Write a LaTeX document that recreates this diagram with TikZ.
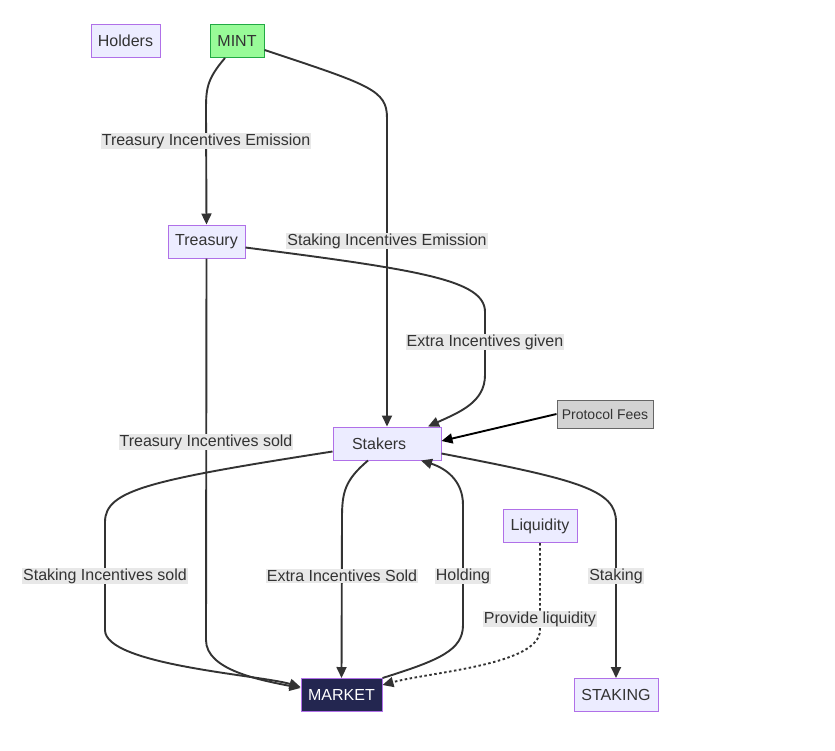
\documentclass[tikz,border=0pt]{standalone}
\usepackage{fontspec}
\setmainfont{Liberation Sans}
\usetikzlibrary{
  arrows.meta,
  positioning
}
\definecolor{boxfill}{HTML}{ECECFF}
\definecolor{boxline}{HTML}{B070E8}
\definecolor{mintfill}{HTML}{98FB98}
\definecolor{mintline}{HTML}{22AA44}
\definecolor{feesfill}{HTML}{D3D3D3}
\definecolor{feesline}{HTML}{666666}
\definecolor{marketfill}{HTML}{232650}
\definecolor{edgeline}{HTML}{333333}
\definecolor{labelbg}{HTML}{E8E8E8}

\begin{document}
\begin{tikzpicture}[
  x=1pt, y=-1pt,
  font=\fontsize{16}{19}\selectfont,
  box/.style={
    draw=boxline,
    fill=boxfill,
    line width=1pt,
    text=edgeline,
    minimum height=33pt,
    inner sep=0pt,
  },
  mintbox/.style={
    box,
    draw=mintline,
    fill=mintfill,
  },
  feesbox/.style={
    box,
    draw=feesline,
    fill=feesfill,
    minimum height=28pt,
    font=\fontsize{14}{17}\selectfont,
  },
  marketbox/.style={
    box,
    fill=marketfill,
    text=white,
  },
  edge/.style={
    draw=edgeline,
    line width=1.9pt,
    ->,
  },
  dots/.style={
    dash pattern=on 2.5pt off 2.5pt,
  },
  elabel/.style={
    fill=labelbg,
    text=edgeline,
    inner sep=1pt,
  },
  >={Triangle[length=11pt,width=10pt]}
]
\useasboundingbox (0,0) rectangle (835,750);

% Nodes
\node[box, minimum width=69pt] (holders) at (125.5,41) {Holders};
\node[mintbox, minimum width=54pt] (mint) at (237,41) {MINT};
\node[box, minimum width=77pt] (treasury) at (206.5,241.5) {Treasury};
\node[box, minimum width=108pt, text width=94pt, align=left] (stakers) at (387,443.5) {\hspace{12pt}Stakers};
\node[feesbox, minimum width=96pt] (fees) at (605,414) {Protocol Fees};
\node[box, minimum width=74pt] (liquidity) at (540,526) {Liquidity};
\node[marketbox, minimum width=81pt] (market) at (341.5,695) {MARKET};
\node[box, minimum width=84pt] (staking) at (616,695) {STAKING};

% Edges from MINT
\draw[edge] ([xshift=-12pt]mint.south) .. controls (206,80) and (206,90) .. (206,112) -- (treasury.north);
\draw[edge] ([yshift=-9pt]mint.east) .. controls (370,85) and (387,90) .. (387,118) -- (stakers.north);

% Edges into Stakers
\draw[edge] ([yshift=-6pt]treasury.east) .. controls (420,270) and (485,280) .. (485,312) -- (485,375) .. controls (485,402) and (460,412) .. ([xshift=41pt]stakers.north);
\draw[edge, draw=black] (fees.west) -- ([yshift=2.5pt]stakers.east);
\draw[edge] (market.north east) .. controls (440,660) and (463,650) .. (463,625) -- (463,505) .. controls (463,480) and (445,468) .. ([xshift=34pt]stakers.south);

% Edges into MARKET
\draw[edge] (treasury.south) -- (206,640) .. controls (206,670) and (260,680) .. ([yshift=7pt]market.west);
\draw[edge] ([yshift=-8pt]stakers.west) .. controls (150,480) and (105,490) .. (105,522) -- (105,630) .. controls (105,665) and (260,675) .. ([yshift=8pt]market.west);
\draw[edge] ([xshift=-19pt]stakers.south) .. controls (345,480) and (342,492) .. (342,518) -- (market.north);
\draw[edge, dots] (liquidity.south) -- (540,630) .. controls (540,665) and (430,672) .. ([yshift=10pt]market.east);

% Edge to STAKING
\draw[edge] ([yshift=-10pt]stakers.east) .. controls (580,480) and (616,490) .. (616,522) -- (staking.north);

% Edge labels
\node[elabel] (lTreasuryEmission) at (206,141) {Treasury Incentives Emission};
\node[elabel] (lStakingEmission) at (387,241) {Staking Incentives Emission};
\node[elabel] (lExtraGiven) at (485,342) {Extra Incentives given};
\node[elabel] (lTreasurySold) at (206,442) {Treasury Incentives sold};
\node[elabel] (lStakingSold) at (105,576) {Staking Incentives sold};
\node[elabel] (lExtraSold) at (342,576) {Extra Incentives Sold};
\node[elabel] (lHolding) at (463,576) {Holding};
\node[elabel] (lStaking) at (616,576) {Staking};
\node[elabel] (lProvide) at (540,619) {Provide liquidity};

\end{tikzpicture}
\end{document}
